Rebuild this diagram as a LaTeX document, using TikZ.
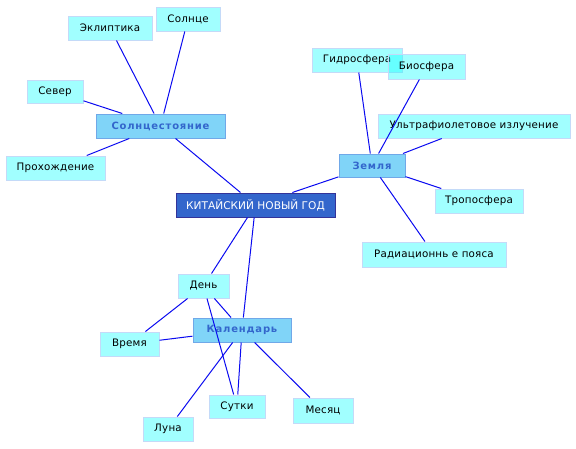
\documentclass[tikz,border=0pt]{standalone}
\usepackage{fontspec}
\setmainfont{DejaVu Sans}
\definecolor{leaffill}{RGB}{0,255,255}
\definecolor{leafborder}{HTML}{C4DAF8}
\definecolor{hubfill}{HTML}{80D4F8}
\definecolor{hubborder}{HTML}{70A8E8}
\definecolor{hubtext}{HTML}{3366CC}
\definecolor{mainfill}{HTML}{3366CC}
\definecolor{mainborder}{HTML}{333399}
\definecolor{edgeblue}{HTML}{0A0AF0}
\begin{document}
\begin{tikzpicture}[x=1pt,y=-1pt,
  leaf/.style={draw=leafborder,line width=1pt,fill=leaffill,fill opacity=0.37,draw opacity=1,text opacity=1,inner sep=0pt,font=\fontsize{10.3}{12}\selectfont\addfontfeatures{LetterSpace=2},text=black},
  hub/.style={draw=hubborder,line width=1pt,fill=hubfill,inner sep=0pt,font=\fontsize{10}{12}\selectfont\bfseries\addfontfeatures{LetterSpace=8},text=hubtext},
  mainnode/.style={draw=mainborder,line width=1pt,fill=mainfill,inner sep=0pt,font=\fontsize{10.6}{12}\selectfont,text=white},
  link/.style={draw=edgeblue,line width=1pt}]
\useasboundingbox (0,0) rectangle (576,448);
% main
\node[mainnode,minimum width=159pt,minimum height=24pt] (main) at (255.5,205) {КИТАЙСКИЙ НОВЫЙ ГОД};
% hubs
\node[hub,minimum width=129pt,minimum height=24pt] (sol) at (160.5,126) {Солнцестояние};
\node[hub,minimum width=66pt,minimum height=23pt] (zem) at (372,165.5) {Земля};
\node[hub,minimum width=98pt,minimum height=24pt] (kal) at (242,330) {Календарь};
% leaves
\node[leaf,minimum width=84pt,minimum height=24pt] (ekl) at (110,28) {Эклиптика};
\node[leaf,minimum width=64pt,minimum height=24pt] (sun) at (188,19) {Солнце};
\node[leaf,minimum width=56pt,minimum height=23pt] (sev) at (55,91.5) {Север};
\node[leaf,minimum width=99pt,minimum height=24pt] (pro) at (55.5,168) {Прохождение};
\node[leaf,minimum width=90pt,minimum height=24pt] (gid) at (357,60) {Гидросфера};
\node[leaf,minimum width=77pt,minimum height=25pt] (bio) at (426.5,66.5) {Биосфера};
\node[leaf,minimum width=192pt,minimum height=24pt] (ult) at (474,126) {Ультрафиолетовое излучение};
\node[leaf,minimum width=88pt,minimum height=24pt] (tro) at (479,201) {Тропосфера};
\node[leaf,minimum width=144pt,minimum height=25pt] (rad) at (434,254.5) {Радиационнь е пояса};
\node[leaf,minimum width=51pt,minimum height=24pt] (den) at (203.5,286) {День};
\node[leaf,minimum width=59pt,minimum height=24pt] (vre) at (129.5,344) {Время};
\node[leaf,minimum width=56pt,minimum height=23pt] (sut) at (237,406.5) {Сутки};
\node[leaf,minimum width=50pt,minimum height=24pt] (lun) at (168,429) {Луна};
\node[leaf,minimum width=60pt,minimum height=25pt] (mes) at (323,410.5) {Месяц};
% links
\draw[link] (ekl) -- (sol);
\draw[link] (sun) -- (sol);
\draw[link] (sev) -- (sol);
\draw[link] (pro) -- (sol);
\draw[link] (sol) -- (main);
\draw[link] (main) -- (zem);
\draw[link] (gid) -- (zem);
\draw[link] (bio) -- (zem);
\draw[link] (ult) -- (zem);
\draw[link] (zem) -- (tro);
\draw[link] (zem) -- (rad);
\draw[link] (main) -- (den);
\draw[link] (main) -- (kal);
\draw[link] (den) -- (vre);
\draw[link] (vre) -- (kal);
\draw[link] (den) -- (kal);
\draw[link] (den) -- (sut);
\draw[link] (kal) -- (sut);
\draw[link] (kal) -- (lun);
\draw[link] (kal) -- (mes);
\end{tikzpicture}
\end{document}
